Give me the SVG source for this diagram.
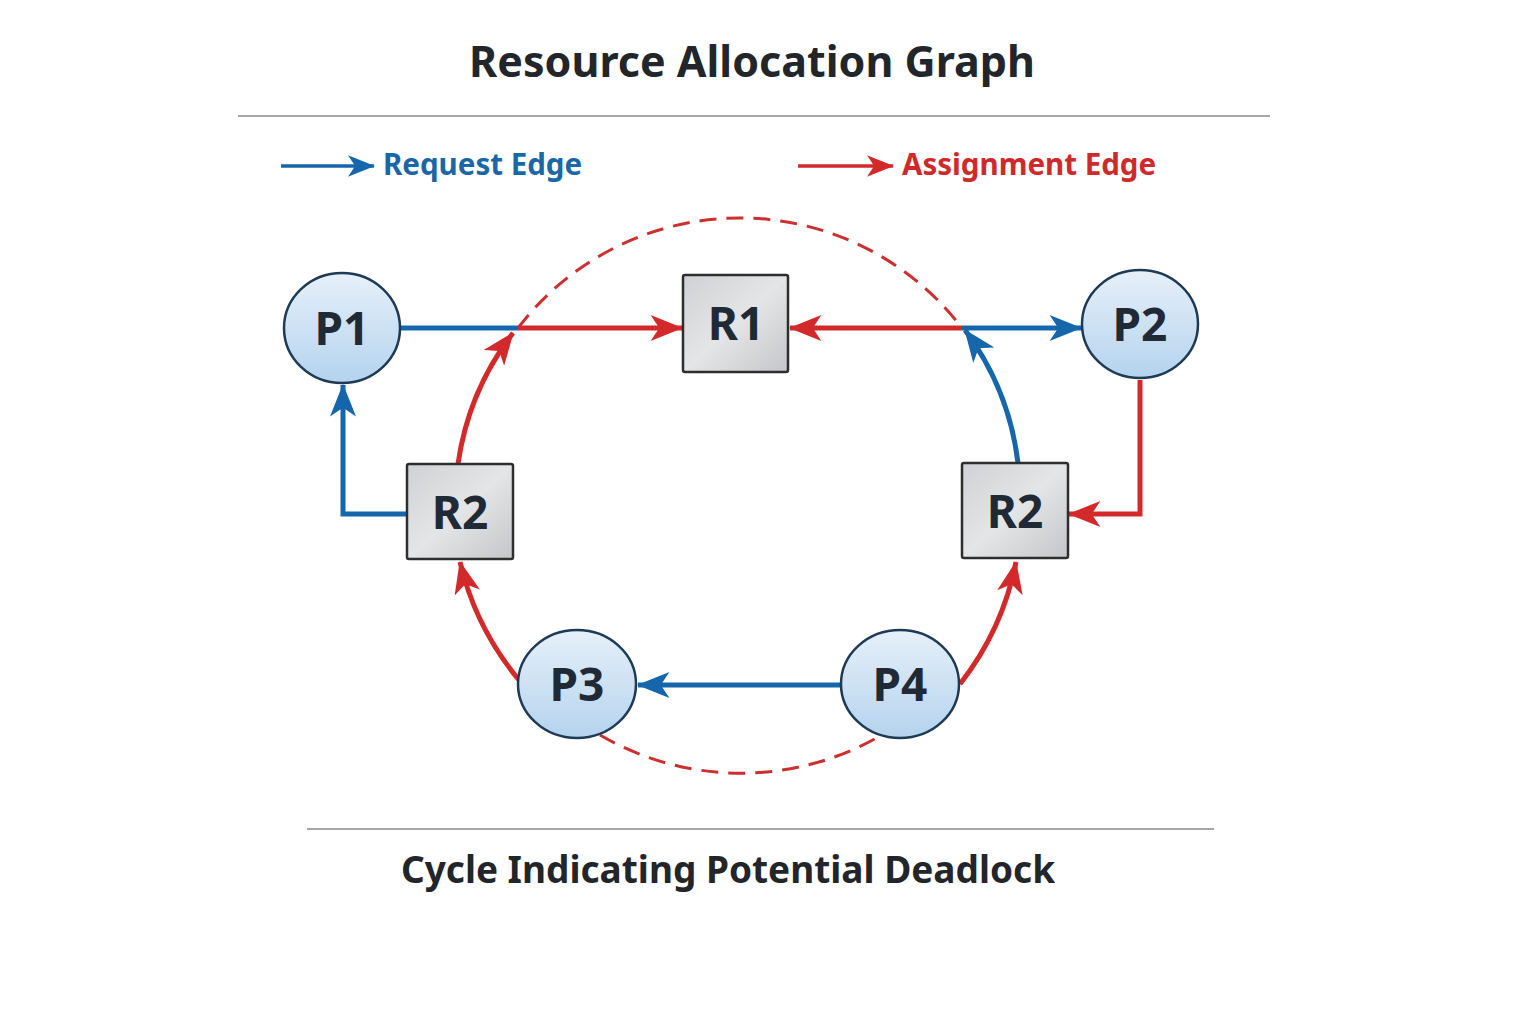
<svg xmlns="http://www.w3.org/2000/svg" width="1536" height="1024" viewBox="0 0 1536 1024">
<style>
.title{font-family:"Noto Sans","Liberation Sans",sans-serif;font-weight:bold;fill:#22262b}
.lbl{font-family:"Noto Sans","Liberation Sans",sans-serif;font-weight:bold;font-size:46px;fill:#1f2a36;text-anchor:middle}
.proc{fill:url(#pg);stroke:#1e3a55;stroke-width:2.5}
.res{fill:url(#rg);stroke:#2e2e2e;stroke-width:2.5}
.blue{stroke:#1566aa;stroke-width:5;fill:none}
.red{stroke:#d22a2a;stroke-width:5;fill:none}
.dash{stroke:#cc2f2f;stroke-width:3;fill:none;stroke-dasharray:17 10}
.rule{stroke:#888;stroke-width:1.5}
</style>
<defs>
<linearGradient id="pg" x1="0" y1="0" x2="0" y2="1">
<stop offset="0" stop-color="#e6f0f9"/><stop offset="1" stop-color="#b4d3ee"/>
</linearGradient>
<linearGradient id="rg" x1="0" y1="0" x2="1" y2="1">
<stop offset="0" stop-color="#cfd1d4"/><stop offset="0.5" stop-color="#e4e5e6"/><stop offset="1" stop-color="#c4c6c9"/>
</linearGradient>
<marker id="ab" viewBox="0 0 30 24" markerWidth="33" markerHeight="26" refX="29" refY="12" orient="auto" markerUnits="userSpaceOnUse">
<path d="M0,0 L30,12 L0,24 L8,12 z" fill="#1566aa"/>
</marker>
<marker id="ar" viewBox="0 0 30 24" markerWidth="33" markerHeight="26" refX="29" refY="12" orient="auto" markerUnits="userSpaceOnUse">
<path d="M0,0 L30,12 L0,24 L8,12 z" fill="#d22a2a"/>
</marker>
<marker id="abs" viewBox="0 0 30 24" markerWidth="27" markerHeight="22" refX="29" refY="12" orient="auto" markerUnits="userSpaceOnUse">
<path d="M0,0 L30,12 L0,24 L8,12 z" fill="#1566aa"/>
</marker>
<marker id="ars" viewBox="0 0 30 24" markerWidth="27" markerHeight="22" refX="29" refY="12" orient="auto" markerUnits="userSpaceOnUse">
<path d="M0,0 L30,12 L0,24 L8,12 z" fill="#d22a2a"/>
</marker>
</defs>
<rect width="1536" height="1024" fill="#ffffff"/>
<text class="title" x="752" y="77" font-size="43" text-anchor="middle">Resource Allocation Graph</text>
<line class="rule" x1="238" y1="116" x2="1270" y2="116"/>
<g id="legend">
<path d="M281,166 H374" stroke="#1566aa" stroke-width="3.5" fill="none" marker-end="url(#abs)"/>
<text x="383" y="175" font-family="Noto Sans, Liberation Sans, sans-serif" font-weight="bold" font-size="29.5" fill="#1a66a6">Request Edge</text>
<path d="M798,166 H893" stroke="#d22a2a" stroke-width="3.5" fill="none" marker-end="url(#ars)"/>
<text x="902" y="175" font-family="Noto Sans, Liberation Sans, sans-serif" font-weight="bold" font-size="29.5" fill="#cf2a2a">Assignment Edge</text>
</g>
<g id="connectors">
<path class="dash" d="M518,328 A279,279 0 0 1 962,328"/>
<path class="dash" d="M600,735 A279,279 0 0 0 880,736"/>
<path class="blue" d="M400,328 H518"/>
<path class="red" d="M518,328 H682" marker-end="url(#ar)"/>
<path class="red" d="M962,328 H790" marker-end="url(#ar)"/>
<path class="blue" d="M962,328 H1081" marker-end="url(#ab)"/>
<path class="red" d="M458,464 A279,279 0 0 1 513,333" marker-end="url(#ar)"/>
<path class="blue" d="M1018,463 A279,279 0 0 0 965,330" marker-end="url(#ab)"/>
<path class="blue" d="M407,514 H343 V385" marker-end="url(#ab)"/>
<path class="red" d="M1140,380 V514 H1069" marker-end="url(#ar)"/>
<path class="red" d="M519,680 A289,289 0 0 1 460,562" marker-end="url(#ar)"/>
<path class="red" d="M960,684 A288,288 0 0 0 1016,562" marker-end="url(#ar)"/>
<path class="blue" d="M841,685 H638" marker-end="url(#ab)"/>
</g>
<g id="P1"><ellipse class="proc" cx="342" cy="328" rx="58" ry="55"/><text class="lbl" x="342" y="345">P1</text></g>
<g id="P2"><ellipse class="proc" cx="1140" cy="324" rx="58" ry="54"/><text class="lbl" x="1140" y="341">P2</text></g>
<g id="P3"><ellipse class="proc" cx="577" cy="684" rx="59" ry="54"/><text class="lbl" x="577" y="701">P3</text></g>
<g id="P4"><ellipse class="proc" cx="900" cy="684" rx="59" ry="54"/><text class="lbl" x="900" y="701">P4</text></g>
<g id="R1"><rect class="res" x="683" y="275" width="105" height="97" rx="2"/><text class="lbl" x="736" y="340">R1</text></g>
<g id="R2a"><rect class="res" x="407" y="464" width="106" height="95" rx="2"/><text class="lbl" x="460" y="529">R2</text></g>
<g id="R2b"><rect class="res" x="962" y="463" width="106" height="95" rx="2"/><text class="lbl" x="1015" y="528">R2</text></g>
<line class="rule" x1="307" y1="829" x2="1214" y2="829"/>
<text class="title" x="728" y="883" font-size="37" text-anchor="middle">Cycle Indicating Potential Deadlock</text>
</svg>
